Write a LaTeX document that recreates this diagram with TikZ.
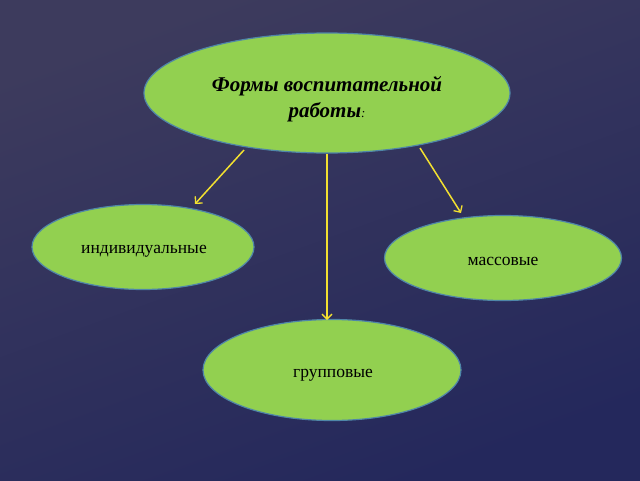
\documentclass[tikz,border=0pt]{standalone}
\usepackage{fontspec}
\setmainfont{Liberation Serif}
\usetikzlibrary{arrows.meta,shapes.geometric}
\definecolor{bgA}{HTML}{3D3B5D}
\definecolor{bgB}{HTML}{24285C}
\definecolor{leaf}{HTML}{92D050}
\definecolor{rim}{HTML}{4F86A8}
\definecolor{wire}{HTML}{F2E030}
\tikzset{
  blob/.style={ellipse, fill=leaf, draw=rim, line width=1.2pt, inner sep=0pt},
  link/.style={draw=wire, line width=1.5pt, -{Straight Barb[length=5pt,width=10pt,line width=1.3pt]}},
  lbl/.style={font=\fontsize{17.5}{20}\selectfont, text=black}
}
\begin{document}
\begin{tikzpicture}[x=1pt,y=-1pt]
\useasboundingbox (0,0) rectangle (640,480);
\shade[shading=axis, top color=bgA, bottom color=bgB, shading angle=20] (0,0) rectangle (640,480);
\node[blob, minimum width=366pt, minimum height=120pt] (top) at (327,93) {};
\node[text=black, align=center, font=\fontsize{21}{26}\selectfont\bfseries\itshape] (toptxt) at (327,99) {Формы воспитательной\\работы{\mdseries\fontsize{13}{14}\selectfont:}};
\node[blob, minimum width=222pt, minimum height=85pt] (ind) at (143,247) {};
\node[lbl] (indtxt) at (144,251) {индивидуальные};
\node[blob, minimum width=237pt, minimum height=85pt] (mas) at (503,258) {};
\node[lbl] (mastxt) at (503,261) {массовые};
\node[blob, minimum width=258pt, minimum height=101pt] (grp) at (332,370) {};
\node[lbl] (grptxt) at (333,375) {групповые};
\coordinate (s1) at (244,150);
\coordinate (e1) at (195,204);
\coordinate (s2) at (327,154);
\coordinate (e2) at (327,320);
\coordinate (s3) at (420,148);
\coordinate (e3) at (461,213);
\draw[link] (s1) -- (e1);
\draw[link, line width=2pt] (s2) -- (e2);
\draw[link] (s3) -- (e3);
\end{tikzpicture}
\end{document}
